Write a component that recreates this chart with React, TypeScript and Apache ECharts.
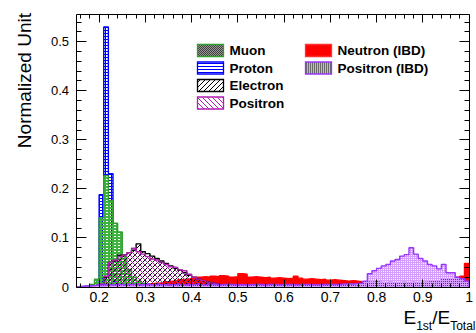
import React, { useEffect, useRef } from "react";
import * as echarts from "echarts";

const W = 476;
const H = 333;
const FONT = '"Liberation Sans", Arial, Helvetica, sans-serif';

// Axis ranges
const X_MIN = 0.15;
const X_MAX = 1.0;
const Y_MAX = 0.5565;
const BIN_WIDTH = 0.01;

// Histogram contents (normalized), each given from the lower edge of its first bin
const muonStart = 0.17;
const muon = [
  0.002, 0.005, 0.016, 0.141, 0.227, 0.176, 0.13, 0.112, 0.062, 0.036, 0.02, 0.012, 0.008, 0.005,
  0.004, 0.003, 0.002, 0.002, 0.001,
];

const protonStart = 0.19;
const proton = [0.002, 0.188, 0.53, 0.231, 0.012, 0.004, 0.002, 0.001];

const electronStart = 0.2;
const electron = [
  0.004, 0.02, 0.05, 0.053, 0.065, 0.066, 0.07, 0.075, 0.088, 0.072, 0.068, 0.063, 0.058, 0.053,
  0.048, 0.043, 0.038, 0.034, 0.029, 0.024, 0.02, 0.016, 0.013, 0.01, 0.008, 0.006, 0.004, 0.003,
  0.002, 0.001,
];

const positronStart = 0.2;
const positron = [
  0.006, 0.022, 0.05, 0.055, 0.062, 0.065, 0.07, 0.079, 0.072, 0.067, 0.062, 0.057, 0.055, 0.05,
  0.046, 0.041, 0.04, 0.035, 0.033, 0.026, 0.02, 0.016, 0.013, 0.01, 0.008, 0.006, 0.004, 0.003,
  0.002, 0.001,
];

const neutronIbdStart = 0.25;
const neutronIbd = [
  0.001, 0.002, 0.003, 0.004, 0.005, 0.006, 0.007, 0.008, 0.009, 0.011, 0.012, 0.013, 0.015, 0.016,
  0.017, 0.018, 0.02, 0.021, 0.02, 0.022, 0.021, 0.023, 0.022, 0.02, 0.021, 0.027, 0.026, 0.02,
  0.021, 0.02, 0.019, 0.02, 0.018, 0.019, 0.018, 0.017, 0.018, 0.022, 0.018, 0.016, 0.017, 0.016,
  0.015, 0.016, 0.014, 0.015, 0.014, 0.013, 0.012, 0.013, 0.012, 0.011, 0.011, 0.01, 0.011, 0.01,
  0.009, 0.01, 0.009, 0.009, 0.01, 0.009, 0.01, 0.009, 0.01, 0.01, 0.011, 0.011, 0.013, 0.015,
  0.017, 0.018, 0.02, 0.022, 0.048,
];

const positronIbdStart = 0.15;
const positronIbd = [
  0.001, 0.002, 0.002, 0.003, 0.004,
  0.004, 0.005, 0.004, 0.005, 0.005, 0.004, 0.005, 0.005, 0.004, 0.005,
  0.005, 0.004, 0.005, 0.005, 0.004, 0.005, 0.005, 0.005, 0.004, 0.005,
  0.005, 0.005, 0.004, 0.005, 0.005, 0.004, 0.005, 0.005, 0.005, 0.004,
  0.005, 0.004, 0.005, 0.005, 0.005, 0.004, 0.005, 0.005, 0.004, 0.005,
  0.005, 0.005, 0.004, 0.005, 0.005, 0.005, 0.004, 0.005, 0.005, 0.005,
  0.005, 0.005, 0.006, 0.006, 0.006, 0.007,
  0.008, 0.012, 0.027, 0.033, 0.038, 0.043, 0.046, 0.053, 0.056, 0.063, 0.066, 0.08, 0.067, 0.058,
  0.053, 0.046, 0.043, 0.037, 0.046, 0.029, 0.029, 0.02, 0.017, 0.012,
];

// Tick marks
const X_MAJOR_TICKS = [0.2, 0.3, 0.4, 0.5, 0.6, 0.7, 0.8, 0.9, 1.0];
const Y_MAJOR_TICKS = [0, 0.1, 0.2, 0.3, 0.4, 0.5];
const MINOR_STEP = 0.02;

// x-axis title pieces: [text, isSubscript]
const X_TITLE_PARTS: [string, boolean][] = [
  ["E", false],
  ["1st", true],
  ["/E", false],
  ["Total", true],
];

const COLORS = {
  muon: "#2e9e2e",
  proton: "#0000ff",
  electron: "#000000",
  positron: "#b01fb0",
  neutron: "#ff0000",
  positronIbd: "#9933ff",
};

type Paint = (ctx: CanvasRenderingContext2D) => void;

function tile(w: number, h: number, paint: Paint) {
  const c = document.createElement("canvas");
  c.width = w;
  c.height = h;
  const ctx = c.getContext("2d") as CanvasRenderingContext2D;
  paint(ctx);
  return { image: c.toDataURL(), imageWidth: w, imageHeight: h, repeat: "repeat" };
}

function px(ctx: CanvasRenderingContext2D, color: string, pts: number[][]) {
  ctx.fillStyle = color;
  pts.forEach(([x, y]) => ctx.fillRect(x, y, 1, 1));
}

function makePatterns() {
  const diag = (n: number, up: boolean) =>
    Array.from({ length: n }, (_, i) => [i, up ? n - 1 - i : i]);
  return {
    muon: tile(4, 3, (ctx) => {
      ctx.fillStyle = "#3fb23f";
      ctx.fillRect(0, 0, 4, 2);
      ctx.fillRect(0, 2, 2, 1);
    }),
    muonKey: tile(2, 2, (ctx) => {
      px(ctx, "#3c3c3c", [[0, 0], [1, 1]]);
      px(ctx, "#9a9a9a", [[1, 0], [0, 1]]);
    }),
    proton: tile(3, 3, (ctx) => {
      ctx.fillStyle = COLORS.proton;
      ctx.fillRect(0, 0, 3, 1);
      ctx.fillRect(0, 0, 1, 3);
    }),
    protonKey: tile(1, 3, (ctx) => px(ctx, COLORS.proton, [[0, 0]])),
    electron: tile(5, 5, (ctx) => px(ctx, COLORS.electron, diag(5, true))),
    positron: tile(5, 5, (ctx) => px(ctx, COLORS.positron, diag(5, false))),
    positronIbd: tile(2, 2, (ctx) => px(ctx, "#d49cff", [[0, 0], [1, 0], [0, 1]])),
    positronIbdKey: tile(2, 1, (ctx) => {
      px(ctx, "#6a6a6a", [[0, 0]]);
      px(ctx, "#bdbdbd", [[1, 0]]);
    }),
  };
}

// Outline + fill of a histogram as step points (horizontal run, then vertical jump)
function stepPoints(start: number, values: number[]) {
  const edge = (i: number) => +(start + i * BIN_WIDTH).toFixed(4);
  const pts: number[][] = [[edge(0), 0]];
  values.forEach((v, i) => pts.push([edge(i), v]));
  const end = edge(values.length);
  pts.push([end, values[values.length - 1]]);
  pts.push([end, 0]);
  return pts;
}

function tickLabel(v: number) {
  const t = Math.round(v * 100);
  if (t % 10 !== 0) return "";
  return String(t / 100);
}

// E_{1st}/E_{Total}, laid out right to left from the right edge
function xTitleGraphics() {
  const mainFont = `19px ${FONT}`;
  const subFont = `12px ${FONT}`;
  const c = document.createElement("canvas").getContext("2d") as CanvasRenderingContext2D;
  let right = 475.5;
  const items: any[] = [];
  for (let i = X_TITLE_PARTS.length - 1; i >= 0; i--) {
    const [text, sub] = X_TITLE_PARTS[i];
    const font = sub ? subFont : mainFont;
    c.font = font;
    items.push({
      type: "text",
      x: right,
      y: sub ? 325.5 : 317.5,
      style: { text, font, fill: "#000", align: "right", verticalAlign: "middle" },
    });
    right -= c.measureText(text).width;
  }
  return items;
}

function buildOption() {
  const pat = makePatterns();

  // drawing order, back to front
  const histos = [
    { name: "Neutron (IBD)", start: neutronIbdStart, values: neutronIbd, color: COLORS.neutron, fill: COLORS.neutron },
    { name: "Proton", start: protonStart, values: proton, color: COLORS.proton, fill: pat.proton },
    { name: "Muon", start: muonStart, values: muon, color: COLORS.muon, fill: pat.muon },
    { name: "Electron", start: electronStart, values: electron, color: COLORS.electron, fill: pat.electron },
    { name: "Positron", start: positronStart, values: positron, color: COLORS.positron, fill: pat.positron },
    { name: "Positron (IBD)", start: positronIbdStart, values: positronIbd, color: COLORS.positronIbd, fill: pat.positronIbd },
  ];

  const legendEntries = [
    { name: "Muon", col: 0, row: 0, fill: pat.muonKey, stroke: COLORS.muon },
    { name: "Proton", col: 0, row: 1, fill: pat.protonKey, stroke: COLORS.proton },
    { name: "Electron", col: 0, row: 2, fill: pat.electron, stroke: COLORS.electron },
    { name: "Positron", col: 0, row: 3, fill: pat.positron, stroke: COLORS.positron },
    { name: "Neutron (IBD)", col: 1, row: 0, fill: COLORS.neutron, stroke: "#ff3030" },
    { name: "Positron (IBD)", col: 1, row: 1, fill: pat.positronIbdKey, stroke: COLORS.positronIbd },
  ];
  const legendColX = [197, 305];
  const legendTop = 44;
  const legendRowH = 17.5;

  const legendGraphics: any[] = [];
  legendEntries.forEach((e) => {
    const x = legendColX[e.col];
    const y = legendTop + e.row * legendRowH;
    legendGraphics.push({
      type: "rect",
      shape: { x: x + 0.5, y: y + 0.5, width: 26, height: 12 },
      style: { fill: "#ffffff", stroke: "none" },
      z: 20,
    });
    legendGraphics.push({
      type: "rect",
      shape: { x: x + 0.5, y: y + 0.5, width: 26, height: 12 },
      style: { fill: e.fill, stroke: e.stroke, lineWidth: 1.3 },
      z: 21,
    });
    legendGraphics.push({
      type: "text",
      x: x + 32.5,
      y: y + 6.5,
      style: {
        text: e.name,
        font: `bold 13.5px ${FONT}`,
        fill: "#000",
        align: "left",
        verticalAlign: "middle",
      },
      z: 21,
    });
  });

  // tick items: [value, kind (0 = x, 1 = y, 2 = frame), major flag]
  const tickData: number[][] = [];
  X_MAJOR_TICKS.forEach((v) => tickData.push([v, 0, 1]));
  for (let k = Math.ceil(X_MIN / MINOR_STEP); k * MINOR_STEP <= X_MAX + 1e-9; k++) {
    if (k % 5 !== 0) tickData.push([+(k * MINOR_STEP).toFixed(2), 0, 0]);
  }
  Y_MAJOR_TICKS.forEach((v) => tickData.push([v, 1, 1]));
  for (let k = 1; k * MINOR_STEP <= Y_MAX; k++) {
    if (k % 5 !== 0) tickData.push([+(k * MINOR_STEP).toFixed(2), 1, 0]);
  }
  tickData.push([X_MIN, 2, 0]);

  const crisp = (n: number) => Math.round(n - 0.5) + 0.5;
  const lineStyle = { stroke: "#000", lineWidth: 1 };

  const renderTicks = (_params: any, api: any) => {
    const v = api.value(0);
    const kind = api.value(1);
    const major = api.value(2) === 1;
    if (kind === 2) {
      const a = api.coord([X_MIN, 0]);
      const b = api.coord([X_MAX, Y_MAX]);
      return {
        type: "rect",
        shape: {
          x: crisp(a[0]),
          y: crisp(b[1]),
          width: Math.round(b[0] - a[0]),
          height: Math.round(a[1] - b[1]),
        },
        style: { fill: "none", stroke: "#000", lineWidth: 1 },
      };
    }
    if (kind === 0) {
      const bottom = api.coord([v, 0]);
      const top = api.coord([v, Y_MAX]);
      const len = major ? 8 : 4;
      const x = crisp(bottom[0]);
      const yb = crisp(bottom[1]);
      const yt = crisp(top[1]);
      return {
        type: "group",
        children: [
          { type: "line", shape: { x1: x, y1: yb, x2: x, y2: yb - len }, style: lineStyle },
          { type: "line", shape: { x1: x, y1: yt, x2: x, y2: yt + len }, style: lineStyle },
        ],
      };
    }
    const left = api.coord([X_MIN, v]);
    const right = api.coord([X_MAX, v]);
    const len = major ? 10 : 5;
    const y = crisp(left[1]);
    const xl = crisp(left[0]);
    const xr = crisp(right[0]);
    return {
      type: "group",
      children: [
        { type: "line", shape: { x1: xl, y1: y, x2: xl + len, y2: y }, style: lineStyle },
        { type: "line", shape: { x1: xr, y1: y, x2: xr - len, y2: y }, style: lineStyle },
      ],
    };
  };

  return {
    animation: false,
    backgroundColor: "#ffffff",
    grid: { left: 76, top: 14, right: 1, bottom: 46, containLabel: false },
    xAxis: {
      type: "value",
      min: X_MIN,
      max: X_MAX,
      interval: 0.05,
      axisLine: { show: false },
      axisTick: { show: false },
      splitLine: { show: false },
      axisLabel: {
        formatter: tickLabel,
        fontSize: 14,
        fontFamily: FONT,
        color: "#000",
        margin: 3,
        showMinLabel: true,
        showMaxLabel: true,
      },
    },
    yAxis: {
      type: "value",
      min: 0,
      max: Y_MAX,
      interval: 0.1,
      axisLine: { show: false },
      axisTick: { show: false },
      splitLine: { show: false },
      axisLabel: {
        formatter: tickLabel,
        fontSize: 13,
        fontFamily: FONT,
        color: "#000",
        margin: 7,
      },
    },
    series: [
      ...histos.map((h, i) => ({
        type: "line",
        name: h.name,
        data: stepPoints(h.start, h.values),
        step: "end",
        symbol: "none",
        showSymbol: false,
        silent: true,
        z: 2 + i,
        lineStyle: { color: h.color, width: 1.4 },
        itemStyle: { color: h.color },
        areaStyle: { color: h.fill, opacity: 1 },
      })),
      {
        type: "custom",
        name: "axes",
        data: tickData,
        renderItem: renderTicks,
        silent: true,
        clip: false,
        z: 20,
      },
    ],
    graphic: [
      {
        type: "text",
        x: 24,
        y: 13,
        rotation: Math.PI / 2,
        style: {
          text: "Normalized Unit",
          font: `19px ${FONT}`,
          fill: "#000",
          align: "right",
          verticalAlign: "middle",
        },
      },
      ...xTitleGraphics(),
      ...legendGraphics,
    ],
  };
}

export default function App() {
  const ref = useRef<HTMLDivElement>(null);

  useEffect(() => {
    document.body.style.margin = "0";
    if (!ref.current) return;
    const chart = echarts.init(ref.current, null, { renderer: "svg", width: W, height: H });
    chart.setOption(buildOption() as any);
    return () => chart.dispose();
  }, []);

  return <div ref={ref} style={{ width: W, height: H, position: "absolute", left: 0, top: 0 }} />;
}
